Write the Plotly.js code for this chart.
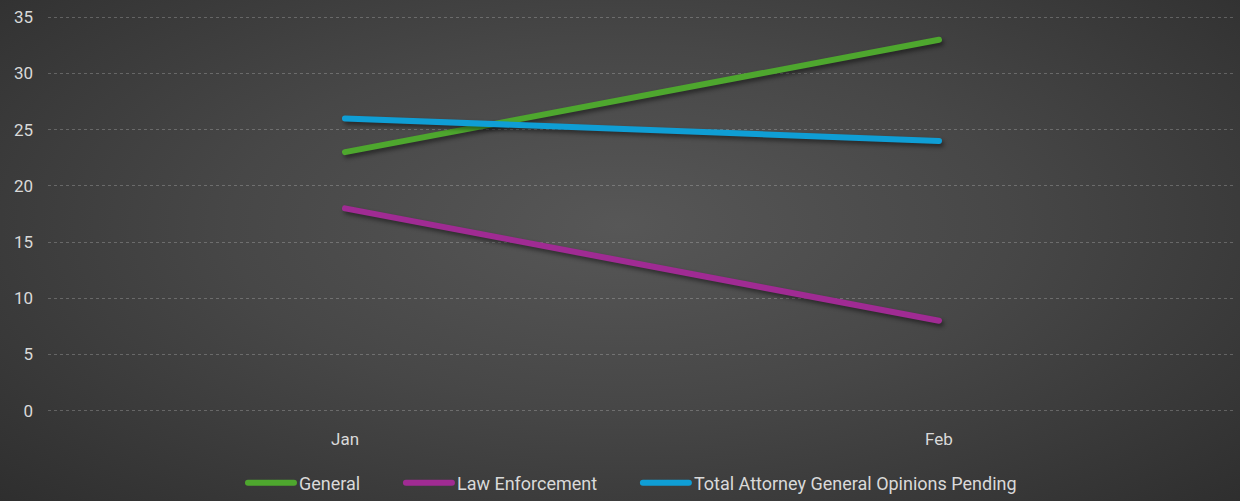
<!DOCTYPE html>
<html>
<head>
<meta charset="utf-8">
<script src="https://cdn.plot.ly/plotly-3.0.1.min.js"></script>
<style>
html,body{margin:0;padding:0;}
#chart{width:1240px;height:501px;background:radial-gradient(ellipse 70% 80% at 50% 45%, #575757 0%, #474747 45%, #2e2e2e 100%);}
#chart .scatterlayer path.js-line{stroke-linecap:round;filter:drop-shadow(2px 3px 2px rgba(0,0,0,0.45));}
#chart .legend path.js-line{stroke-linecap:round;}
</style>
</head>
<body>
<div id="chart"></div>
<script>
const months = ["Jan", "Feb"];
const general = [23, 33];
const lawEnforcement = [18, 8];
const totalPending = [26, 24];
const seriesNames = ["General", "Law Enforcement", "Total Attorney General Opinions Pending"];
const seriesColors = ["#4ea72e", "#a02b93", "#0f9ed5"];

const values = [general, lawEnforcement, totalPending];
const gap = "\u00a0\u00a0\u00a0\u00a0\u00a0\u00a0\u00a0\u00a0";
const traces = values.map((v, i) => ({
  x: months, y: v, type: "scatter", mode: "lines",
  name: seriesNames[i] + (i < values.length - 1 ? gap : ""),
  line: {color: seriesColors[i], width: 6}
}));

const layout = {
  width: 1240, height: 501,
  paper_bgcolor: "rgba(0,0,0,0)", plot_bgcolor: "rgba(0,0,0,0)",
  margin: {l: 48, r: 4, t: 15, b: 88, autoexpand: false},
  font: {family: "Roboto, sans-serif", color: "#d9d9d9"},
  xaxis: {
    type: "category", range: [-0.5, 1.5], showgrid: false, zeroline: false,
    showline: false, ticks: "", ticklabelstandoff: 14, automargin: false,
    tickfont: {size: 17, family: "Roboto, sans-serif", color: "#d9d9d9"}
  },
  yaxis: {
    range: [-0.2, 35.2], tickvals: [0, 5, 10, 15, 20, 25, 30, 35], showgrid: true,
    gridcolor: "rgba(255,255,255,0.22)", automargin: false,
    griddash: "dot", gridwidth: 1, zeroline: false, showline: false, ticks: "",
    ticklabelstandoff: 14,
    tickfont: {size: 17, family: "Roboto, sans-serif", color: "#d9d9d9"}
  },
  showlegend: true,
  legend: {
    orientation: "h", x: 0.492, xanchor: "center", yref: "container", y: 0.036, yanchor: "middle",
    font: {size: 18, color: "#d9d9d9", family: "Roboto, sans-serif"},
    itemwidth: 46, tracegroupgap: 0, bgcolor: "rgba(0,0,0,0)"
  }
};

Plotly.newPlot("chart", traces, layout, {displayModeBar: false, staticPlot: true});
</script>
</body>
</html>
